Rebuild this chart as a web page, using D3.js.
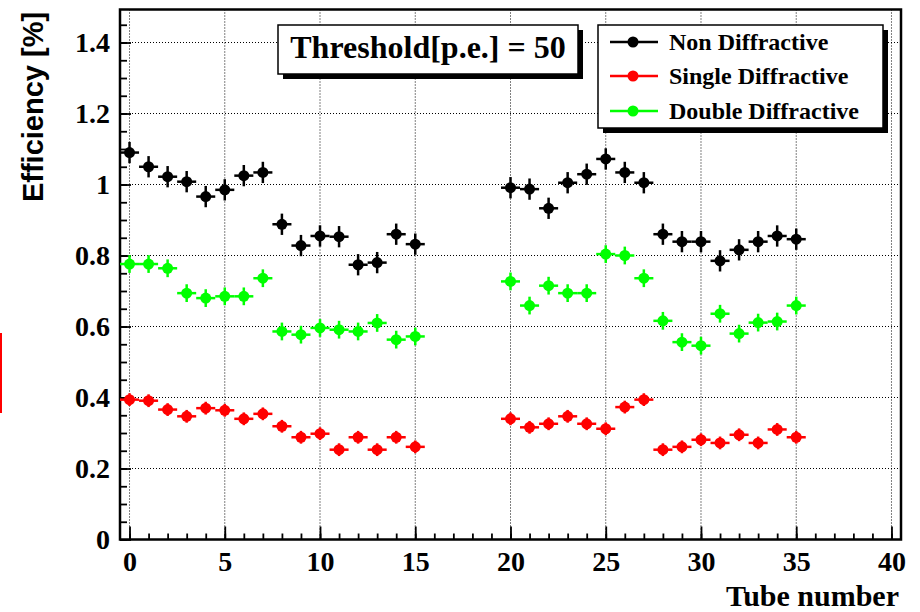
<!DOCTYPE html>
<html>
<head>
<meta charset="utf-8">
<script src="https://cdnjs.cloudflare.com/ajax/libs/d3/7.8.5/d3.min.js"></script>
<style>
  body { margin: 0; background: #fff; }
  .tick text { font-family: "Liberation Serif", serif; font-weight: bold; font-size: 28px; fill: #000; }
  .grid line { stroke: #000; stroke-width: 1; stroke-dasharray: 1,2; }
</style>
</head>
<body>
<div id="chart"></div>
<script>

// Tube numbers (gap between 15 and 20)
var tubes = [0, 1, 2, 3, 4, 5, 6, 7, 8, 9, 10, 11, 12, 13, 14, 15,
    20, 21, 22, 23, 24, 25, 26, 27, 28, 29, 30, 31, 32, 33, 34, 35];

var nonDiffractive = [1.090, 1.050, 1.022, 1.008, 0.966, 0.985, 1.025, 1.034, 0.888, 0.828, 0.855, 0.853, 0.774, 0.780, 0.860, 0.832,
    0.991, 0.987, 0.933, 1.005, 1.029, 1.072, 1.034, 1.005, 0.860, 0.839, 0.839, 0.785, 0.816, 0.839, 0.855, 0.846];

var singleDiffractive = [0.394, 0.391, 0.366, 0.347, 0.370, 0.364, 0.340, 0.354, 0.319, 0.288, 0.298, 0.253, 0.288, 0.253, 0.288, 0.261,
    0.340, 0.316, 0.326, 0.347, 0.326, 0.312, 0.373, 0.394, 0.253, 0.261, 0.281, 0.272, 0.295, 0.272, 0.310, 0.288];

var doubleDiffractive = [0.776, 0.776, 0.764, 0.694, 0.680, 0.685, 0.685, 0.736, 0.586, 0.577, 0.596, 0.591, 0.586, 0.610, 0.563, 0.572,
    0.727, 0.659, 0.715, 0.694, 0.694, 0.804, 0.800, 0.736, 0.616, 0.556, 0.546, 0.636, 0.580, 0.611, 0.614, 0.659];

// statistical errors per series
var errNon = 0.03, errSingle = 0.018, errDouble = 0.025;

var seriesNames = ["Non Diffractive", "Single Diffractive", "Double Diffractive"];
var seriesColors = ["#000000", "#ff0000", "#00ff00"];

var xTickLabels = [0, 5, 10, 15, 20, 25, 30, 35, 40];
var yTickLabels = [0, 0.2, 0.4, 0.6, 0.8, 1, 1.2, 1.4];

var width = 920, height = 612;
var frame = {left: 120, right: 901, top: 9.5, bottom: 539.5};

var svg = d3.select("#chart").append("svg")
    .attr("width", width)
    .attr("height", height);

var x = d3.scaleLinear()
    .domain([-0.5, 40.5])
    .range([frame.left, frame.right]);

var y = d3.scaleLinear()
    .domain([0, 1.493])
    .range([frame.bottom, frame.top]);

// Grid
svg.append("g").attr("class", "grid")
    .selectAll("line.gx")
    .data(xTickLabels)
    .enter().append("line")
    .attr("x1", function(d) { return x(d); })
    .attr("x2", function(d) { return x(d); })
    .attr("y1", frame.top)
    .attr("y2", frame.bottom);

svg.append("g").attr("class", "grid")
    .selectAll("line.gy")
    .data(yTickLabels.slice(1))
    .enter().append("line")
    .attr("x1", frame.left)
    .attr("x2", frame.right)
    .attr("y1", function(d) { return y(d); })
    .attr("y2", function(d) { return y(d); });

// Axes: minor ticks, then major ticks with labels
svg.append("g")
    .attr("transform", "translate(0," + frame.bottom + ")")
    .call(d3.axisBottom(x).tickValues(d3.range(0, 41)).tickSize(-6).tickFormat(""))
    .call(function(g) { g.select(".domain").remove(); });

svg.append("g")
    .attr("transform", "translate(0," + frame.bottom + ")")
    .call(d3.axisBottom(x).tickValues(xTickLabels).tickSizeInner(-13).tickSizeOuter(0).tickPadding(12).tickFormat(d3.format("d")))
    .call(function(g) { g.select(".domain").remove(); });

svg.append("g")
    .attr("transform", "translate(" + frame.left + ",0)")
    .call(d3.axisLeft(y).tickValues(d3.range(0, 1.451, 0.05)).tickSize(-7).tickFormat(""))
    .call(function(g) { g.select(".domain").remove(); });

svg.append("g")
    .attr("transform", "translate(" + frame.left + ",0)")
    .call(d3.axisLeft(y).tickValues(yTickLabels).tickSizeInner(-11).tickSizeOuter(0).tickPadding(10).tickFormat(d3.format("")))
    .call(function(g) { g.select(".domain").remove(); });

svg.selectAll(".tick line").attr("stroke", "#000").attr("stroke-width", 1.8);

// Frame
svg.append("rect")
    .attr("x", frame.left)
    .attr("y", frame.top)
    .attr("width", frame.right - frame.left)
    .attr("height", frame.bottom - frame.top)
    .attr("fill", "none")
    .attr("stroke", "#000")
    .attr("stroke-width", 2.5);

// Data points with error bars
var allSeries = [
    {values: nonDiffractive, err: errNon},
    {values: singleDiffractive, err: errSingle},
    {values: doubleDiffractive, err: errDouble}
];

allSeries.forEach(function(s, i) {
    var pts = tubes.map(function(t, j) { return {t: t, v: s.values[j]}; });
    var g = svg.append("g").attr("stroke", seriesColors[i]).attr("fill", seriesColors[i]);

    g.selectAll("line.ex")
        .data(pts).enter().append("line")
        .attr("x1", function(d) { return x(d.t - 0.5); })
        .attr("x2", function(d) { return x(d.t + 0.5); })
        .attr("y1", function(d) { return y(d.v); })
        .attr("y2", function(d) { return y(d.v); })
        .attr("stroke-width", 2.5);

    g.selectAll("line.ey")
        .data(pts).enter().append("line")
        .attr("x1", function(d) { return x(d.t); })
        .attr("x2", function(d) { return x(d.t); })
        .attr("y1", function(d) { return y(d.v - s.err); })
        .attr("y2", function(d) { return y(d.v + s.err); })
        .attr("stroke-width", 2.5);

    g.selectAll("circle")
        .data(pts).enter().append("circle")
        .attr("cx", function(d) { return x(d.t); })
        .attr("cy", function(d) { return y(d.v); })
        .attr("r", 5.5)
        .attr("stroke", "none");
});

// Axis titles
svg.append("text")
    .attr("transform", "translate(43,107) rotate(-90)")
    .attr("text-anchor", "middle")
    .style("font-family", "'Liberation Sans', Arial, sans-serif")
    .style("font-weight", "bold")
    .style("font-size", "29px")
    .text("Efficiency [%]");

svg.append("text")
    .attr("x", 899)
    .attr("y", 606)
    .attr("text-anchor", "end")
    .style("font-family", "'Liberation Serif', serif")
    .style("font-weight", "bold")
    .style("font-size", "30px")
    .text("Tube number");

// Threshold box
svg.append("rect").attr("x", 283).attr("y", 30).attr("width", 300).attr("height", 49).attr("fill", "#000");
svg.append("rect").attr("x", 278).attr("y", 25).attr("width", 300).attr("height", 49)
    .attr("fill", "#fff").attr("stroke", "#000").attr("stroke-width", 1.5);
svg.append("text")
    .attr("x", 428)
    .attr("y", 58)
    .attr("text-anchor", "middle")
    .style("font-family", "'Liberation Serif', serif")
    .style("font-weight", "bold")
    .style("font-size", "32px")
    .text("Threshold[p.e.] = 50");

// Legend
svg.append("rect").attr("x", 603).attr("y", 30).attr("width", 285).attr("height", 103).attr("fill", "#000");
svg.append("rect").attr("x", 598).attr("y", 25).attr("width", 285).attr("height", 103)
    .attr("fill", "#fff").attr("stroke", "#000").attr("stroke-width", 1.5);

var legendY = [42, 76, 111];
var legend = svg.selectAll(".legend-item")
    .data(seriesNames)
    .enter().append("g")
    .attr("class", "legend-item")
    .attr("transform", function(d, i) { return "translate(0," + legendY[i] + ")"; });

legend.append("line")
    .attr("x1", 610).attr("x2", 658)
    .attr("stroke", function(d, i) { return seriesColors[i]; })
    .attr("stroke-width", 2.5);
legend.append("circle")
    .attr("cx", 633).attr("r", 5.5)
    .attr("fill", function(d, i) { return seriesColors[i]; });
legend.append("text")
    .attr("x", 669)
    .attr("dy", "0.35em")
    .style("font-family", "'Liberation Serif', serif")
    .style("font-weight", "bold")
    .style("font-size", "24px")
    .text(function(d) { return d; });

// stray red mark at the left edge
svg.append("line")
    .attr("x1", 1).attr("x2", 1)
    .attr("y1", 333).attr("y2", 413)
    .attr("stroke", "#ff0000")
    .attr("stroke-width", 2);

</script>
</body>
</html>
